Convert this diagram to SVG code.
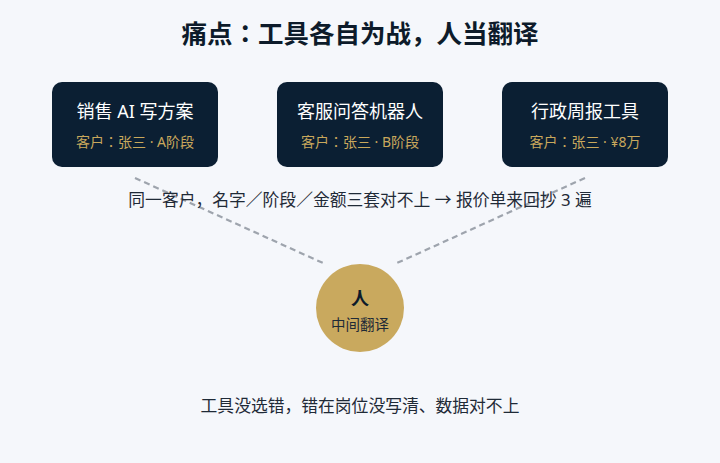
<svg xmlns="http://www.w3.org/2000/svg" width="720" height="463" viewBox="0 0 720 463">
<style>
text{font-family:"Noto Sans","Noto Sans CJK JP",sans-serif;text-anchor:middle}
.title{font-size:25.5px;font-weight:700;fill:#0d1b2a}
.box{fill:#0b1f33}
.bt{font-size:18px;fill:#ffffff}
.bs{font-size:14px;fill:#c9a85c}
.note{font-size:16.8px;fill:#1f2a37}
.conn{stroke:#9ea4ad;stroke-width:2.2;stroke-dasharray:6 4;fill:none}
</style>
<rect width="720" height="463" fill="#f5f7fb"/>
<text class="title" x="360" y="43">痛点：工具各自为战，人当翻译</text>
<g id="connectors">
<line class="conn" x1="135" y1="178" x2="323" y2="263"/>
<line class="conn" x1="585" y1="178" x2="397" y2="263"/>
</g>
<g id="node-sales">
<rect class="box" x="52" y="82" width="166" height="85" rx="10"/>
<text class="bt" x="135" y="118">销售 AI 写方案</text>
<text class="bs" x="135" y="147">客户：张三 · A阶段</text>
</g>
<g id="node-service">
<rect class="box" x="277" y="82" width="166" height="85" rx="10"/>
<text class="bt" x="360" y="118">客服问答机器人</text>
<text class="bs" x="360" y="147">客户：张三 · B阶段</text>
</g>
<g id="node-admin">
<rect class="box" x="502" y="82" width="166" height="85" rx="10"/>
<text class="bt" x="585" y="118">行政周报工具</text>
<text class="bs" x="585" y="147">客户：张三 · ¥8万</text>
</g>
<text class="note" x="360" y="206">同一客户，名字／阶段／金额三套对不上 → 报价单来回抄 3 遍</text>
<g id="node-person">
<circle cx="360" cy="308" r="44" fill="#c9a95e"/>
<text x="360" y="305" font-size="18" font-weight="700" fill="#0d1b2a">人</text>
<text x="360" y="330" font-size="14.5" fill="#1f2a37">中间翻译</text>
</g>
<text class="note" x="360" y="412">工具没选错，错在岗位没写清、数据对不上</text>
</svg>
